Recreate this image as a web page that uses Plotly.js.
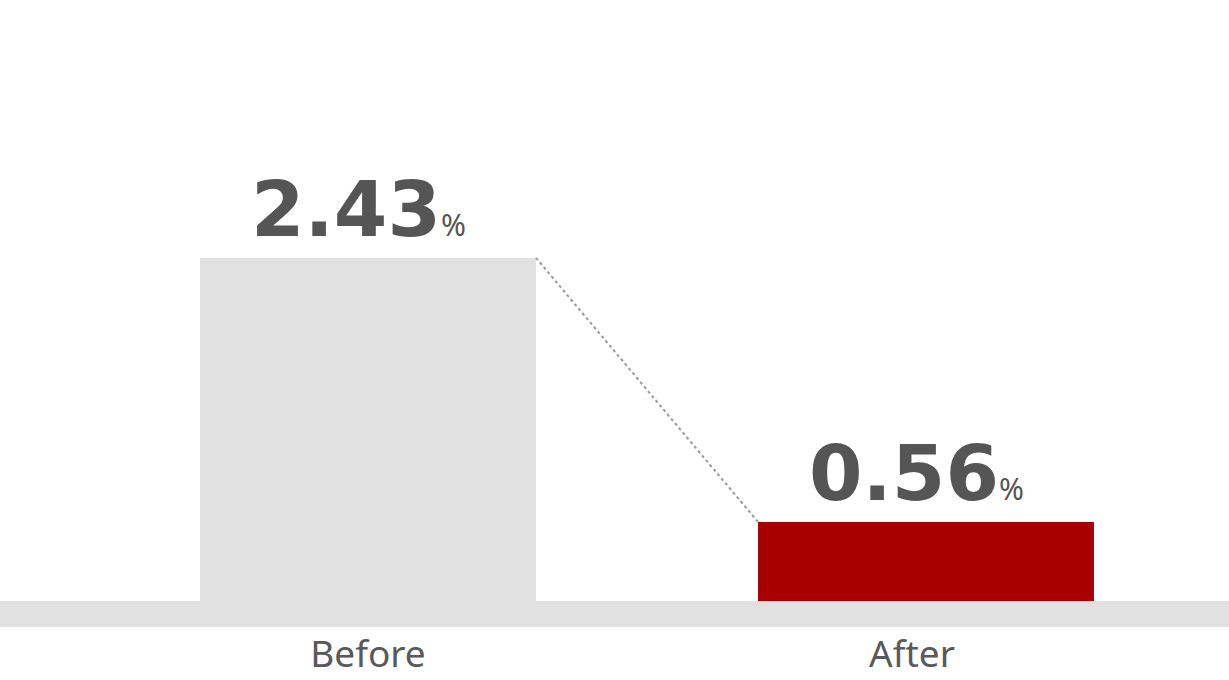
<!DOCTYPE html>
<html>
<head>
<meta charset="utf-8">
<script src="https://cdn.plot.ly/plotly-3.0.1.min.js"></script>
<style>
html,body{margin:0;padding:0;background:#ffffff;}
#chart{width:1229px;height:680px;}
</style>
</head>
<body>
<div id="chart"></div>
<script>
const categories = ["Before", "After"];
const values = [2.43, 0.56];
const barColors = ["#e1e1e1", "#a80000"];
const valueSuffix = "%";

const BAR_W = 0.602;

const bars = {
  type: "bar",
  x: [0, 1],
  y: values,
  width: BAR_W,
  marker: { color: barColors, line: { width: 0 } },
  hoverinfo: "skip"
};

const annotations = values.map((v, i) => ({
  x: i,
  y: v,
  xref: "x",
  yref: "y",
  yanchor: "bottom",
  xanchor: "center",
  yshift: 2,
  xshift: -10,
  showarrow: false,
  text: "<b>" + v.toFixed(2) + "</b><span style=\"font-size:30px;font-family:'Noto Sans';font-weight:normal\">" + valueSuffix + "</span>",
  font: { family: "'DejaVu Sans', sans-serif", size: 77, color: "#555555" }
}));

const shapes = [
  {
    type: "rect", xref: "paper", yref: "y",
    x0: 0, x1: 1, y0: -0.184, y1: 0,
    fillcolor: "#e1e1e1", line: { width: 0 }, layer: "below"
  },
  {
    type: "line", xref: "x", yref: "y",
    x0: 0 + BAR_W / 2, y0: values[0],
    x1: 1 - BAR_W / 2, y1: values[1],
    line: { color: "#999999", width: 2, dash: "dot" }
  }
];

const layout = {
  width: 1229,
  height: 680,
  margin: { l: 0, r: 0, t: 0, b: 53 },
  paper_bgcolor: "#ffffff",
  plot_bgcolor: "#ffffff",
  showlegend: false,
  xaxis: {
    type: "linear",
    range: [-0.6595, 1.543],
    tickvals: [0, 0.975],
    ticktext: categories,
    showgrid: false,
    zeroline: false,
    showline: false,
    ticks: "",
    ticklabelstandoff: 2,
    tickfont: { family: "'Noto Sans', 'Open Sans', sans-serif", size: 37, color: "#595959" },
    fixedrange: true
  },
  yaxis: {
    range: [-0.184, 4.256],
    visible: false,
    showgrid: false,
    zeroline: false,
    fixedrange: true
  },
  annotations: annotations,
  shapes: shapes
};

Plotly.newPlot("chart", [bars], layout, { displayModeBar: false, staticPlot: true });
</script>
</body>
</html>
